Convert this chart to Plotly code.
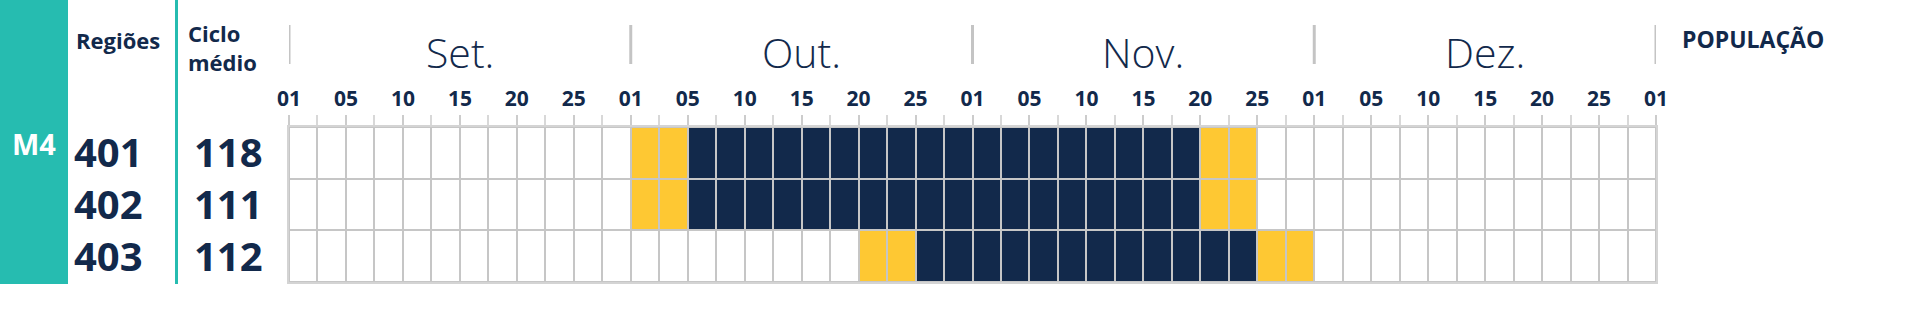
import plotly.graph_objects as go

# ---------------- data ----------------
months = ["Set.", "Out.", "Nov.", "Dez."]
day_labels = ["01", "05", "10", "15", "20", "25"]
regions = ["401", "402", "403"]
ciclo_medio = ["118", "111", "112"]
group_label = "M4"

# 48 bins (12 per month); 0 = none, 1 = yellow (transition), 2 = navy (peak)
states_401 = [0,0,0,0,0,0,0,0,0,0,0,0, 1,1,2,2,2,2,2,2,2,2,2,2,
              2,2,2,2,2,2,2,2,1,1,0,0, 0,0,0,0,0,0,0,0,0,0,0,0]
states_402 = [0,0,0,0,0,0,0,0,0,0,0,0, 1,1,2,2,2,2,2,2,2,2,2,2,
              2,2,2,2,2,2,2,2,1,1,0,0, 0,0,0,0,0,0,0,0,0,0,0,0]
states_403 = [0,0,0,0,0,0,0,0,0,0,0,0, 0,0,0,0,0,0,0,0,1,1,2,2,
              2,2,2,2,2,2,2,2,2,2,1,1, 0,0,0,0,0,0,0,0,0,0,0,0]
z = [states_401, states_402, states_403]

# ---------------- style ----------------
NAVY = "#12294b"
YELLOW = "#fec833"
TEAL = "#26bcb0"
GRID = "#c6c6c6"
FONT = "Open Sans"

W, H = 1921, 309
L, R, T, B = 289, 1656, 127, 282
PW, PH = R - L, B - T

def px(x):
    return (x - L) / PW

def py(y):
    return (B - y) / PH

n_bins = len(states_401)
bins_per_month = n_bins // len(months)

fig = go.Figure()
fig.add_trace(go.Heatmap(
    z=z,
    x=list(range(n_bins)),
    y=list(range(len(regions))),
    zmin=0, zmax=2,
    colorscale=[[0, "#ffffff"], [0.33, "#ffffff"], [0.33, YELLOW], [0.66, YELLOW],
                [0.66, NAVY], [1, NAVY]],
    showscale=False,
    xgap=2, ygap=2,
    hoverinfo="skip",
))

tickvals = [-0.5 + 2 * k for k in range(n_bins // 2 + 1)]
ticktext = [day_labels[k % len(day_labels)] for k in range(n_bins // 2)] + ["01"]
minor_vals = [-0.5 + k for k in range(1, n_bins, 2)]

fig.update_xaxes(
    range=[-0.5, n_bins - 0.5], side="top",
    tickvals=tickvals, ticktext=ticktext,
    ticks="outside", ticklen=10, tickwidth=1.5, tickcolor="#cccccc",
    minor=dict(tickvals=minor_vals, ticks="outside", ticklen=10, tickwidth=1.5, tickcolor="#d8d8d8"),
    tickfont=dict(family=FONT, size=21, color=NAVY, weight="bold"),
    ticklabelstandoff=1,
    showgrid=False, zeroline=False,
    showline=True, mirror=True, linecolor="#d4d4d4", linewidth=2,
)
fig.update_yaxes(
    range=[len(regions) - 0.5, -0.5], showticklabels=False, ticks="",
    showgrid=False, zeroline=False,
    showline=True, mirror=True, linecolor="#d4d4d4", linewidth=2,
)

shapes = []
annotations = []

# teal band and line
shapes.append(dict(type="rect", xref="paper", yref="paper", x0=px(0), x1=px(68),
                   y0=py(284), y1=py(0), fillcolor=TEAL, line=dict(width=0), layer="below"))
shapes.append(dict(type="line", xref="paper", yref="paper", x0=px(176.5), x1=px(176.5),
                   y0=py(284), y1=py(0), line=dict(color=TEAL, width=3)))

# month separators and labels
for m in range(len(months) + 1):
    xb = -0.5 + m * bins_per_month
    shapes.append(dict(type="line", xref="x", yref="paper", x0=xb, x1=xb,
                       y0=py(64), y1=py(25), line=dict(color="#c4c4c4", width=3)))
for m, name in enumerate(months):
    xc = -0.5 + (m + 0.5) * bins_per_month
    annotations.append(dict(x=xc, xref="x", y=py(52), yref="paper", text=name,
                            showarrow=False, xanchor="center", yanchor="middle",
                            font=dict(family=FONT, size=41, color=NAVY, weight=300)))

# headers
annotations.append(dict(x=px(74), xref="paper", y=py(40), yref="paper", text="Regiões",
                        showarrow=False, xanchor="left", yanchor="middle",
                        font=dict(family=FONT, size=22, color=NAVY, weight="bold")))
annotations.append(dict(x=px(186), xref="paper", y=py(47), yref="paper", text="Ciclo<br>médio",
                        showarrow=False, xanchor="left", yanchor="middle", align="left",
                        font=dict(family=FONT, size=22, color=NAVY, weight="bold")))
annotations.append(dict(x=px(1680), xref="paper", y=py(39), yref="paper", text="POPULAÇÃO",
                        showarrow=False, xanchor="left", yanchor="middle",
                        font=dict(family=FONT, size=23, color=NAVY, weight="bold")))
annotations.append(dict(x=px(34), xref="paper", y=py(143), yref="paper", text=group_label,
                        showarrow=False, xanchor="center", yanchor="middle",
                        font=dict(family=FONT, size=29, color="#ffffff", weight="bold")))

# region rows
for i, (reg, cyc) in enumerate(zip(regions, ciclo_medio)):
    annotations.append(dict(x=px(72), xref="paper", y=i, yref="y", text=reg,
                            showarrow=False, xanchor="left", yanchor="middle", yshift=1,
                            font=dict(family=FONT, size=40, color=NAVY, weight="bold")))
    annotations.append(dict(x=px(228), xref="paper", y=i, yref="y", text=cyc,
                            showarrow=False, xanchor="center", yanchor="middle", yshift=1,
                            font=dict(family=FONT, size=40, color=NAVY, weight="bold")))

fig.update_layout(
    width=W, height=H,
    margin=dict(l=L, r=W - R, t=T, b=H - B, pad=0),
    paper_bgcolor="#ffffff", plot_bgcolor=GRID,
    shapes=shapes, annotations=annotations,
    showlegend=False,
)

fig.write_html("out.html", config={"displayModeBar": False})
